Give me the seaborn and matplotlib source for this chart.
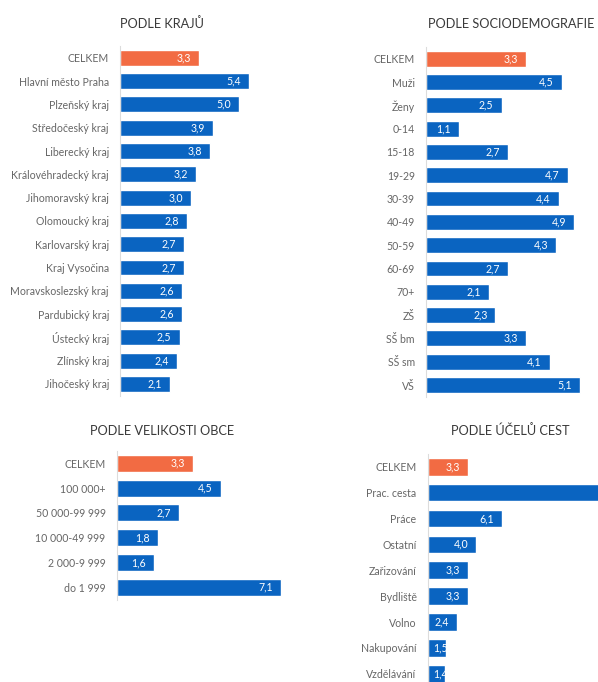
import matplotlib
matplotlib.use("Agg")
import matplotlib.pyplot as plt
import seaborn as sns
import pandas as pd

# --- data -------------------------------------------------------------
kraje_labels = ["CELKEM", "Hlavní město Praha", "Plzeňský kraj", "Středočeský kraj",
                "Liberecký kraj", "Královéhradecký kraj", "Jihomoravský kraj",
                "Olomoucký kraj", "Karlovarský kraj", "Kraj Vysočina",
                "Moravskoslezský kraj", "Pardubický kraj", "Ústecký kraj",
                "Zlínský kraj", "Jihočeský kraj"]
kraje_values = [3.3, 5.4, 5.0, 3.9, 3.8, 3.2, 3.0, 2.8, 2.7, 2.7, 2.6, 2.6, 2.5, 2.4, 2.1]

socio_labels = ["CELKEM", "Muži", "Ženy", "0-14", "15-18", "19-29", "30-39", "40-49",
                "50-59", "60-69", "70+", "ZŠ", "SŠ bm", "SŠ sm", "VŠ"]
socio_values = [3.3, 4.5, 2.5, 1.1, 2.7, 4.7, 4.4, 4.9, 4.3, 2.7, 2.1, 2.3, 3.3, 4.1, 5.1]

obec_labels = ["CELKEM", "100 000+", "50 000-99 999", "10 000-49 999", "2 000-9 999", "do 1 999"]
obec_values = [3.3, 4.5, 2.7, 1.8, 1.6, 7.1]

ucel_labels = ["CELKEM", "Prac. cesta", "Práce", "Ostatní", "Zařizování", "Bydliště",
               "Volno", "Nakupování", "Vzdělávání"]
ucel_values = [3.3, 16.5, 6.1, 4.0, 3.3, 3.3, 2.4, 1.5, 1.4]

BLUE = "#0a64c1"
ORANGE = "#f26b43"
TEXT = "#666666"

sns.set_theme(style="white")
plt.rcParams["font.family"] = ["Lato", "DejaVu Sans"]

W, H = 598, 682
fig = plt.figure(figsize=(W / 100, H / 100), dpi=100)


def panel(title, title_xy, labels, values, left, scale, row0, step, width_px):
    n = len(labels)
    top = row0 - step / 2
    height = n * step
    ax = fig.add_axes([left / W, 1 - (top + height) / H, width_px / W, height / H])
    df = pd.DataFrame({"cat": labels, "val": values})
    colors = [ORANGE] + [BLUE] * (n - 1)
    sns.barplot(data=df, x="val", y="cat", hue="cat", palette=colors, legend=False,
                orient="h", width=0.68, ax=ax, saturation=1)
    ax.set_xlim(0, width_px / scale)
    ax.set_ylim(n - 0.5, -0.5)
    ax.set_xlabel("")
    ax.set_ylabel("")
    ax.set_xticks([])
    for s in ["top", "right", "bottom"]:
        ax.spines[s].set_visible(False)
    ax.spines["left"].set_color("#dcdcdc")
    ax.spines["left"].set_linewidth(0.8)
    ax.tick_params(axis="y", length=0, pad=8, labelsize=7.6, labelcolor=TEXT)
    fig.text(title_xy[0] / W, 1 - title_xy[1] / H, title, ha="center", va="center",
             fontsize=9.2, color="#3a3a3a")

    # value labels just inside the bar end, clipped to the bar
    renderer = fig.canvas.get_renderer()
    for bar, v in zip(ax.patches, values):
        txt = ax.text(v, bar.get_y() + bar.get_height() / 2, f"{v:.1f}".replace(".", ","),
                      ha="left", va="center", color="white", fontsize=7.6)
        tw = txt.get_window_extent(renderer).width
        # 8px in from the bar end, but starting at least 5px past the bar start
        start_px = max(v * scale - 8 - tw, 5)
        if start_px + tw > width_px:
            # bar runs past the panel edge; its label lies outside the view
            txt.remove()
            continue
        txt.set_x(start_px / scale)
        txt.set_clip_path(bar)
        txt.set_clip_on(True)
    return ax


panel("PODLE KRAJŮ", (161.5, 24), kraje_labels, kraje_values,
      left=120, scale=23.8, row0=57.8, step=23.3, width_px=180)
panel("PODLE SOCIODEMOGRAFIE", (511.5, 24), socio_labels, socio_values,
      left=426, scale=30.2, row0=58.7, step=23.31, width_px=172)
panel("PODLE VELIKOSTI OBCE", (161.7, 431), obec_labels, obec_values,
      left=116.7, scale=23.1, row0=463.3, step=24.8, width_px=180)
panel("PODLE ÚČELŮ CEST", (510, 431), ucel_labels, ucel_values,
      left=427.7, scale=12.15, row0=466.7, step=25.9, width_px=171)

fig.savefig("out.png", dpi=100)
